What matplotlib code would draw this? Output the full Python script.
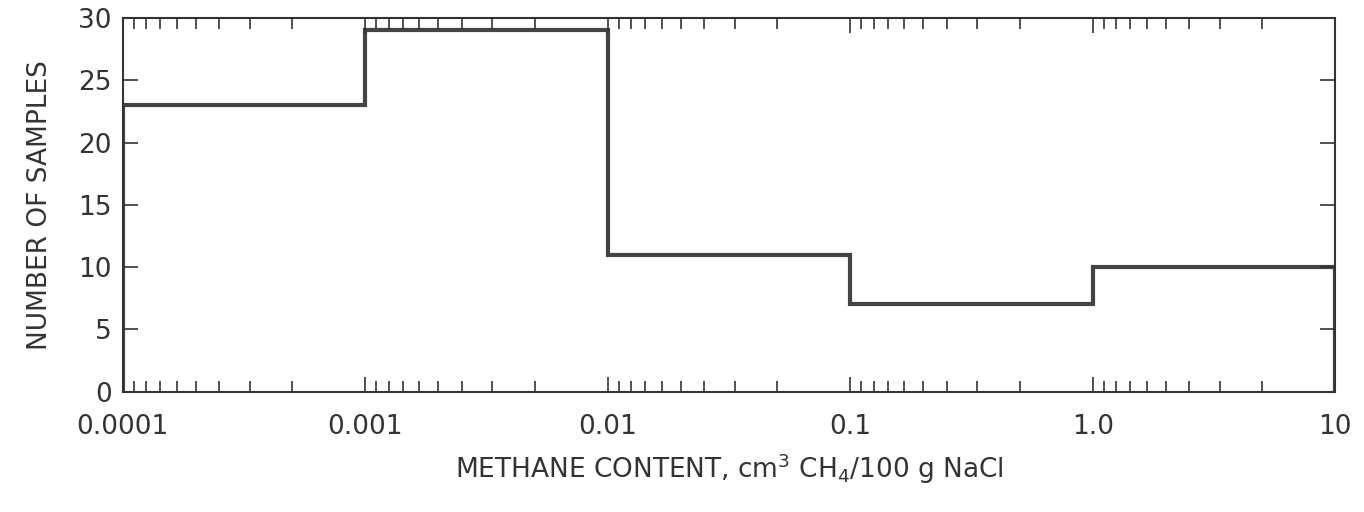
import matplotlib.pyplot as plt
import matplotlib.ticker as mticker
import numpy as np

# bin edges (cm3 CH4 / 100 g NaCl) and counts per bin
edges = [0.0001, 0.001, 0.01, 0.1, 1.0, 10]
counts = [23, 29, 11, 7, 10]
xtick_labels = ['0.0001', '0.001', '0.01', '0.1', '1.0', '10']
yticks = [0, 5, 10, 15, 20, 25, 30]

plt.rcParams['font.family'] = ['DejaVu Sans']
fig = plt.figure(figsize=(13.64, 5.12), dpi=100)
ax = fig.add_axes([0.09, 0.235, 0.889, 0.73])

ax.stairs(counts, edges, color='#444444', linewidth=3, baseline=0)
ax.set_xscale('log')
ax.set_xlim(edges[0], edges[-1])
ax.set_ylim(0, 30)

ax.set_xticks(edges)
ax.set_xticklabels(xtick_labels)
# minor ticks as drawn in the original (mirrored within each decade)
minor = [10 ** k * 10 / m for k in range(-4, 1) for m in range(2, 10)]
ax.set_xticks(minor, minor=True)
ax.xaxis.set_minor_formatter(mticker.NullFormatter())
ax.set_yticks(yticks)

ax.tick_params(which='both', direction='in', top=True, right=True,
               colors='#333333', labelsize=19, width=1.2)
ax.tick_params(which='major', length=11, pad=8)
ax.tick_params(which='minor', length=8)
ax.tick_params(axis='x', which='major', labelsize=19, pad=16)
for s in ax.spines.values():
    s.set_linewidth(1.5)
    s.set_color('#333333')

ax.set_xlabel('METHANE CONTENT, cm$^3$ CH$_4$/100 g NaCl', fontsize=19,
              color='#333333', labelpad=8)
ax.set_ylabel('NUMBER OF SAMPLES', fontsize=19, color='#333333', labelpad=18)

fig.savefig('out.png', dpi=100)
